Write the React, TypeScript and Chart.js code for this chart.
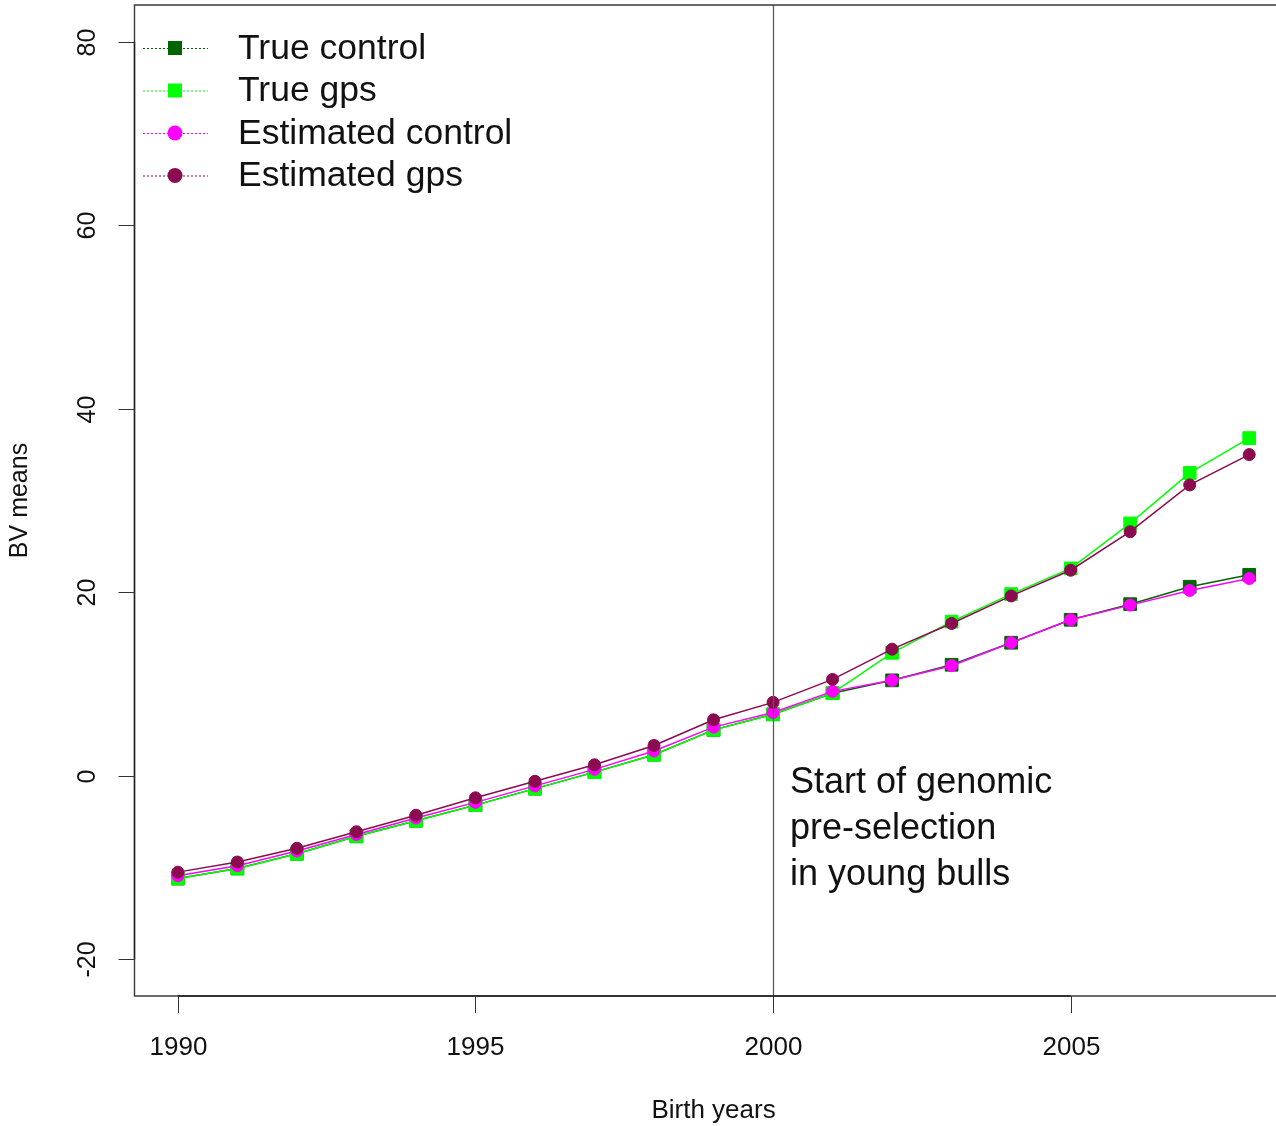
import React, { useEffect, useRef } from "react";
import { Chart, registerables } from "chart.js";

Chart.register(...registerables);

// ---- data ----
const years = [1990, 1991, 1992, 1993, 1994, 1995, 1996, 1997, 1998, 1999, 2000, 2001, 2002, 2003, 2004, 2005, 2006, 2007, 2008];
const trueControl = [-11.2, -10.1, -8.5, -6.6, -4.9, -3.2, -1.4, 0.4, 2.3, 5.0, 6.7, 9.0, 10.4, 12.1, 14.5, 17.0, 18.7, 20.6, 21.9];
const trueGps = [-11.2, -10.1, -8.5, -6.6, -4.9, -3.2, -1.4, 0.4, 2.3, 5.0, 6.7, 9.0, 13.4, 16.8, 19.8, 22.6, 27.5, 33.0, 36.8];
const estControl = [-10.9, -9.8, -8.2, -6.4, -4.6, -2.9, -1.1, 0.7, 2.7, 5.3, 6.9, 9.2, 10.4, 12.0, 14.5, 17.0, 18.6, 20.2, 21.5];
const estGps = [-10.5, -9.4, -7.9, -6.1, -4.3, -2.4, -0.6, 1.2, 3.3, 6.1, 8.0, 10.5, 13.8, 16.6, 19.6, 22.4, 26.6, 31.7, 35.0];

const seriesNames = ["True control", "True gps", "Estimated control", "Estimated gps"];
const seriesValues = [trueControl, trueGps, estControl, estGps];
const seriesColors = ["#006400", "#00FF00", "#FF00FF", "#8B0A50"];
const seriesShapes = ["rect", "rect", "circle", "circle"];

const xTicks = [1990, 1995, 2000, 2005];
const yTicks = [-20, 0, 20, 40, 60, 80];
const xTitle = "Birth years";
const yTitle = "BV means";
const markerYear = 2000;
const annotationLines = ["Start of genomic", "pre-selection", "in young bulls"];

const X_MIN = 1989.28;
const X_MAX = 2008.45;
const Y_MIN = -24;
const Y_MAX = 84;

const FONT = "'Liberation Sans', Arial, Helvetica, sans-serif";

const decorPlugin = {
  id: "decor",
  afterDatasetsDraw(chart: any) {
    const ctx: CanvasRenderingContext2D = chart.ctx;
    const { left, top, bottom } = chart.chartArea;
    const xs = chart.scales.x;
    const ys = chart.scales.y;
    const W = chart.width;
    ctx.save();

    // vertical reference line
    const vx = Math.round(xs.getPixelForValue(markerYear)) + 0.5;
    ctx.strokeStyle = "#5a5a5a";
    ctx.lineWidth = 1.3;
    ctx.beginPath();
    ctx.moveTo(vx, top);
    ctx.lineTo(vx, bottom);
    ctx.stroke();

    // box
    const bl = left - 0.5;
    ctx.strokeStyle = "#3a3a3a";
    ctx.lineWidth = 1.4;
    ctx.beginPath();
    ctx.moveTo(W + 10, top);
    ctx.lineTo(bl, top);
    ctx.lineTo(bl, bottom);
    ctx.lineTo(W + 10, bottom);
    ctx.stroke();

    // x axis
    ctx.strokeStyle = "#222";
    ctx.lineWidth = 1.4;
    const x0 = xs.getPixelForValue(xTicks[0]);
    const x1 = xs.getPixelForValue(xTicks[xTicks.length - 1]);
    ctx.beginPath();
    ctx.moveTo(x0, bottom);
    ctx.lineTo(x1, bottom);
    ctx.stroke();
    ctx.lineWidth = 1;
    ctx.strokeStyle = "#333";
    ctx.fillStyle = "#111";
    ctx.font = `26px ${FONT}`;
    ctx.textAlign = "center";
    ctx.textBaseline = "middle";
    for (const t of xTicks) {
      const px = Math.round(xs.getPixelForValue(t)) + 0.5;
      ctx.beginPath();
      ctx.moveTo(px, bottom);
      ctx.lineTo(px, bottom + 17);
      ctx.stroke();
      ctx.fillText(String(t), px, bottom + 52);
    }

    // y axis
    ctx.strokeStyle = "#222";
    ctx.lineWidth = 1.4;
    ctx.beginPath();
    ctx.moveTo(bl, ys.getPixelForValue(yTicks[0]));
    ctx.lineTo(bl, ys.getPixelForValue(yTicks[yTicks.length - 1]));
    ctx.stroke();
    ctx.lineWidth = 1;
    ctx.strokeStyle = "#333";
    ctx.font = `25px ${FONT}`;
    for (const t of yTicks) {
      const py = Math.round(ys.getPixelForValue(t)) + 0.5;
      ctx.beginPath();
      ctx.moveTo(bl, py);
      ctx.lineTo(bl - 16, py);
      ctx.stroke();
      ctx.save();
      ctx.translate(88, py);
      ctx.rotate(-Math.PI / 2);
      ctx.fillText(String(t), 0, 0);
      ctx.restore();
    }

    // axis titles
    ctx.font = `26px ${FONT}`;
    ctx.fillText(xTitle, xs.getPixelForValue(1999), bottom + 115);
    ctx.font = `25px ${FONT}`;
    ctx.save();
    ctx.translate(20, (top + bottom) / 2);
    ctx.rotate(-Math.PI / 2);
    ctx.fillText(yTitle, 0, 0);
    ctx.restore();

    // legend
    ctx.textAlign = "left";
    ctx.font = `35.5px ${FONT}`;
    for (let i = 0; i < seriesNames.length; i++) {
      const cy = 48 + i * 42.5;
      const c = seriesColors[i];
      ctx.strokeStyle = c;
      ctx.lineWidth = 1;
      ctx.setLineDash([2, 2]);
      ctx.beginPath();
      ctx.moveTo(143, cy + 0.5);
      ctx.lineTo(208, cy + 0.5);
      ctx.stroke();
      ctx.setLineDash([]);
      ctx.fillStyle = c;
      if (seriesShapes[i] === "rect") {
        ctx.fillRect(175 - 7, cy - 7, 14, 14);
      } else {
        ctx.beginPath();
        ctx.arc(175, cy, 7.5, 0, Math.PI * 2);
        ctx.fill();
      }
      ctx.fillStyle = "#111";
      ctx.fillText(seriesNames[i], 238, cy + 1);
    }

    // annotation
    ctx.font = `36px ${FONT}`;
    const ax = xs.getPixelForValue(markerYear) + 17;
    annotationLines.forEach((line, i) => {
      ctx.fillText(line, ax, 783 + i * 46);
    });

    ctx.restore();
  },
};

export default function App() {
  const canvasRef = useRef<HTMLCanvasElement | null>(null);

  useEffect(() => {
    const canvas = canvasRef.current;
    if (!canvas) return;
    const order = [3, 2, 1, 0]; // later series drawn on top (Chart.js draws index 0 last)
    const datasets = order.map((i) => ({
      label: seriesNames[i],
      data: years.map((yr, k) => ({ x: yr, y: seriesValues[i][k] })),
      borderColor: seriesColors[i],
      backgroundColor: seriesColors[i],
      borderWidth: 1.5,
      pointStyle: seriesShapes[i],
      pointRadius: seriesShapes[i] === "rect" ? 9 : 6,
      pointBorderWidth: 1,
      pointBorderColor: seriesColors[i],
      pointBackgroundColor: seriesColors[i],
      tension: 0,
      fill: false,
    }));
    const chart = new Chart(canvas, {
      type: "line",
      data: { datasets },
      options: {
        animation: false,
        responsive: false,
        devicePixelRatio: 1,
        layout: { autoPadding: false, padding: { left: 135, top: 5, right: 0, bottom: 130 } },
        scales: {
          x: { type: "linear", min: X_MIN, max: X_MAX, display: false },
          y: { type: "linear", min: Y_MIN, max: Y_MAX, display: false },
        },
        plugins: {
          legend: { display: false },
          tooltip: { enabled: false },
        },
      },
      plugins: [decorPlugin],
    } as any);
    return () => chart.destroy();
  }, []);

  return (
    <div style={{ position: "absolute", left: 0, top: 0, width: 1276, height: 1126, background: "#fff" }}>
      <canvas ref={canvasRef} width={1276} height={1126} style={{ display: "block", width: 1276, height: 1126 }} />
    </div>
  );
}
